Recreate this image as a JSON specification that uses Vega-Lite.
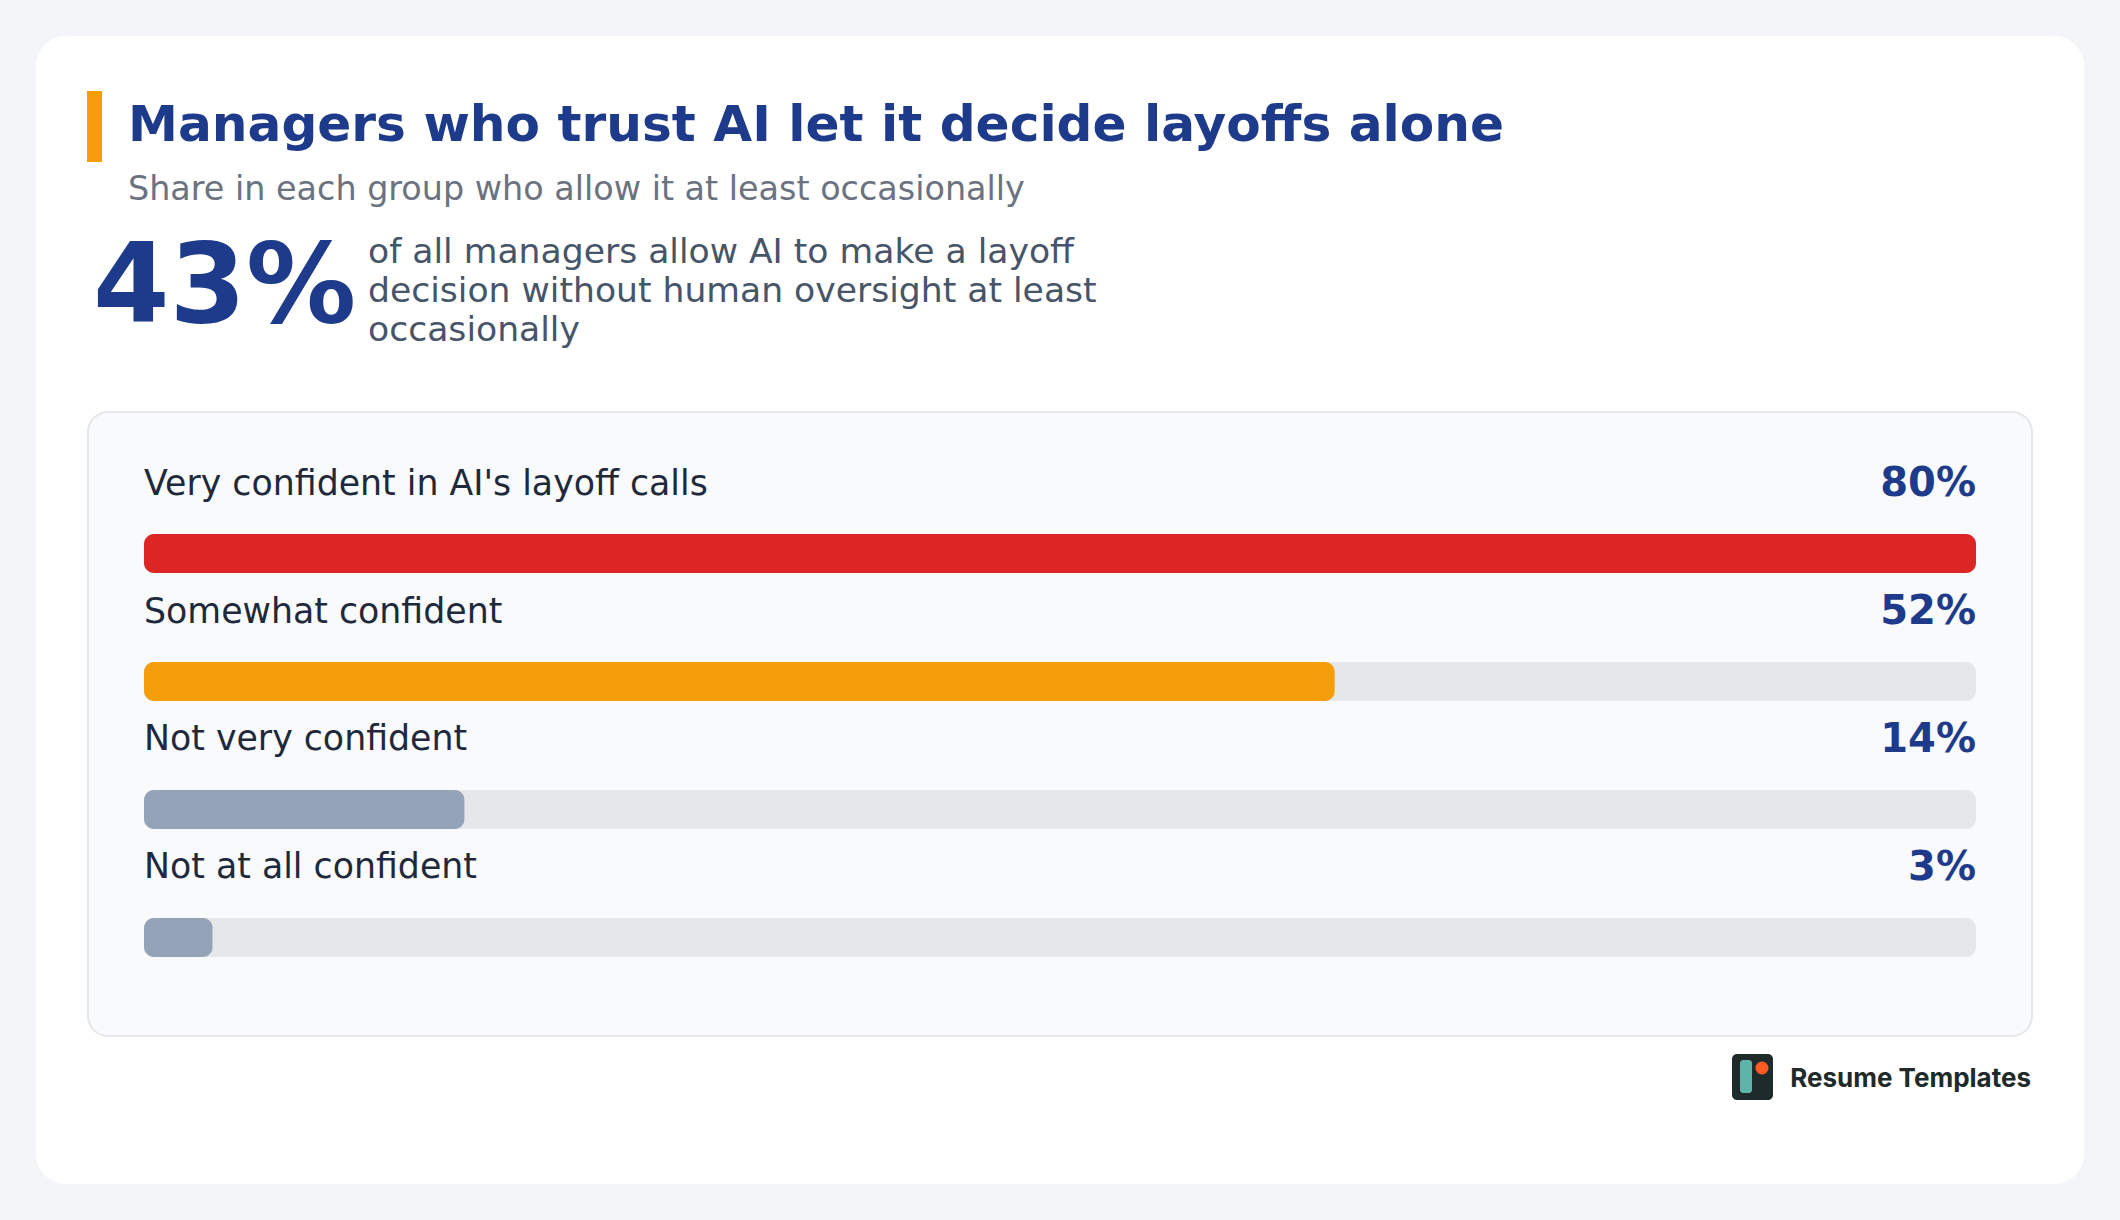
{
  "$schema": "https://vega.github.io/schema/vega-lite/v6.json",
  "width": 2048,
  "height": 1148,
  "autosize": {"type": "none"},
  "padding": {"left": 36, "top": 36, "right": 36, "bottom": 36},
  "background": "#f4f5f9",
  "config": {
    "view": {"fill": "#ffffff", "stroke": null, "cornerRadius": 30},
    "text": {"font": "DejaVu Sans"}
  },
  "datasets": {
    "groups": [
      {"group": "Very confident in AI's layoff calls", "share": 80, "label": "80%"},
      {"group": "Somewhat confident", "share": 52, "label": "52%"},
      {"group": "Not very confident", "share": 14, "label": "14%"},
      {"group": "Not at all confident", "share": 3, "label": "3%"}
    ],
    "one": [{"id": 1}]
  },
  "layer": [
    {
      "data": {"name": "one"},
      "mark": {"type": "bar", "fill": "#f8fafc", "stroke": "#e5e7eb", "strokeWidth": 2, "cornerRadius": 20, "height": 624, "xOffset": -56, "x2Offset": 56, "yOffset": 170.5},
      "encoding": {
        "x": {"datum": 0, "type": "quantitative", "scale": {"domain": [0, 80], "range": [108, 1940], "nice": false}, "axis": null},
        "x2": {"datum": 80},
        "y": {"datum": "Very confident in AI's layoff calls", "type": "nominal", "scale": {"domain": ["Very confident in AI's layoff calls", "Somewhat confident", "Not very confident", "Not at all confident"], "range": [498, 921], "paddingInner": 0.6953, "paddingOuter": 0}, "axis": null}
      }
    },
    {
      "data": {"name": "one"},
      "mark": {"type": "bar", "color": "#f59e0b", "height": 71, "xOffset": -57, "x2Offset": -42, "yOffset": -427},
      "encoding": {
        "x": {"datum": 0, "type": "quantitative", "axis": null},
        "x2": {"datum": 0},
        "y": {"datum": "Very confident in AI's layoff calls", "type": "nominal", "axis": null}
      }
    },
    {
      "data": {"name": "groups"},
      "mark": {"type": "bar", "color": "#e5e7eb", "cornerRadius": 10},
      "encoding": {
        "x": {"datum": 80, "type": "quantitative", "axis": null},
        "y": {"field": "group", "type": "nominal", "axis": null}
      }
    },
    {
      "data": {"name": "groups"},
      "mark": {"type": "bar", "cornerRadius": 10},
      "encoding": {
        "x": {"field": "share", "type": "quantitative", "axis": null},
        "y": {"field": "group", "type": "nominal", "axis": null},
        "color": {"field": "group", "type": "nominal", "legend": null, "scale": {"domain": ["Very confident in AI's layoff calls", "Somewhat confident", "Not very confident", "Not at all confident"], "range": ["#dc2626", "#f59e0b", "#94a3b8", "#94a3b8"]}}
      }
    },
    {
      "data": {"name": "groups"},
      "mark": {"type": "text", "align": "left", "baseline": "alphabetic", "fontSize": 34.75, "color": "#1e293b", "yOffset": -59},
      "encoding": {
        "x": {"datum": 0, "type": "quantitative", "axis": null},
        "y": {"field": "group", "type": "nominal", "axis": null},
        "text": {"field": "group"}
      }
    },
    {
      "data": {"name": "groups"},
      "mark": {"type": "text", "align": "right", "baseline": "alphabetic", "fontSize": 40, "fontWeight": "bold", "color": "#1e3a8a", "yOffset": -57.5},
      "encoding": {
        "x": {"datum": 80, "type": "quantitative", "axis": null},
        "y": {"field": "group", "type": "nominal", "axis": null},
        "text": {"field": "label"}
      }
    },
    {
      "data": {"values": [{"text": "Managers who trust AI let it decide layoffs alone"}]},
      "mark": {"type": "text", "align": "left", "baseline": "alphabetic", "fontSize": 50.2, "fontWeight": "bold", "color": "#1e3a8a", "xOffset": -16, "yOffset": -412.5},
      "encoding": {
        "x": {"datum": 0, "type": "quantitative", "axis": null},
        "y": {"datum": "Very confident in AI's layoff calls", "type": "nominal", "axis": null},
        "text": {"field": "text"}
      }
    },
    {
      "data": {"values": [{"text": "Share in each group who allow it at least occasionally"}]},
      "mark": {"type": "text", "align": "left", "baseline": "alphabetic", "fontSize": 33.4, "color": "#6b7280", "xOffset": -16, "yOffset": -353.5},
      "encoding": {
        "x": {"datum": 0, "type": "quantitative", "axis": null},
        "y": {"datum": "Very confident in AI's layoff calls", "type": "nominal", "axis": null},
        "text": {"field": "text"}
      }
    },
    {
      "data": {"values": [{"text": "43%"}]},
      "mark": {"type": "text", "align": "left", "baseline": "alphabetic", "fontSize": 110, "fontWeight": "bold", "color": "#1e3a8a", "xOffset": -51, "yOffset": -232},
      "encoding": {
        "x": {"datum": 0, "type": "quantitative", "axis": null},
        "y": {"datum": "Very confident in AI's layoff calls", "type": "nominal", "axis": null},
        "text": {"field": "text"}
      }
    },
    {
      "data": {"values": [{"text": "of all managers allow AI to make a layoff\ndecision without human oversight at least\noccasionally"}]},
      "mark": {"type": "text", "align": "left", "baseline": "alphabetic", "fontSize": 34.6, "lineHeight": 39, "lineBreak": "\n", "color": "#475569", "xOffset": 224, "yOffset": -291},
      "encoding": {
        "x": {"datum": 0, "type": "quantitative", "axis": null},
        "y": {"datum": "Very confident in AI's layoff calls", "type": "nominal", "axis": null},
        "text": {"field": "text"}
      }
    },
    {
      "data": {"name": "one"},
      "mark": {"type": "bar", "color": "#1f2a2a", "cornerRadius": 5, "height": 46, "xOffset": -244, "x2Offset": -203, "yOffset": 523.5},
      "encoding": {
        "x": {"datum": 80, "type": "quantitative", "axis": null},
        "x2": {"datum": 80},
        "y": {"datum": "Very confident in AI's layoff calls", "type": "nominal", "axis": null}
      }
    },
    {
      "data": {"name": "one"},
      "mark": {"type": "bar", "color": "#5fb4a9", "cornerRadius": 3, "height": 33, "xOffset": -236, "x2Offset": -224, "yOffset": 523},
      "encoding": {
        "x": {"datum": 80, "type": "quantitative", "axis": null},
        "x2": {"datum": 80},
        "y": {"datum": "Very confident in AI's layoff calls", "type": "nominal", "axis": null}
      }
    },
    {
      "data": {"name": "one"},
      "mark": {"type": "point", "shape": "circle", "filled": true, "opacity": 1, "size": 169, "color": "#ff5a1f", "xOffset": -214, "yOffset": 514.5},
      "encoding": {
        "x": {"datum": 80, "type": "quantitative", "axis": null},
        "y": {"datum": "Very confident in AI's layoff calls", "type": "nominal", "axis": null}
      }
    },
    {
      "data": {"values": [{"text": "Resume Templates"}]},
      "mark": {"type": "text", "align": "right", "baseline": "alphabetic", "font": "Inter", "fontSize": 26, "fontWeight": "bold", "color": "#1f2a2a", "xOffset": 55, "yOffset": 533.5},
      "encoding": {
        "x": {"datum": 80, "type": "quantitative", "axis": null},
        "y": {"datum": "Very confident in AI's layoff calls", "type": "nominal", "axis": null},
        "text": {"field": "text"}
      }
    }
  ]
}
